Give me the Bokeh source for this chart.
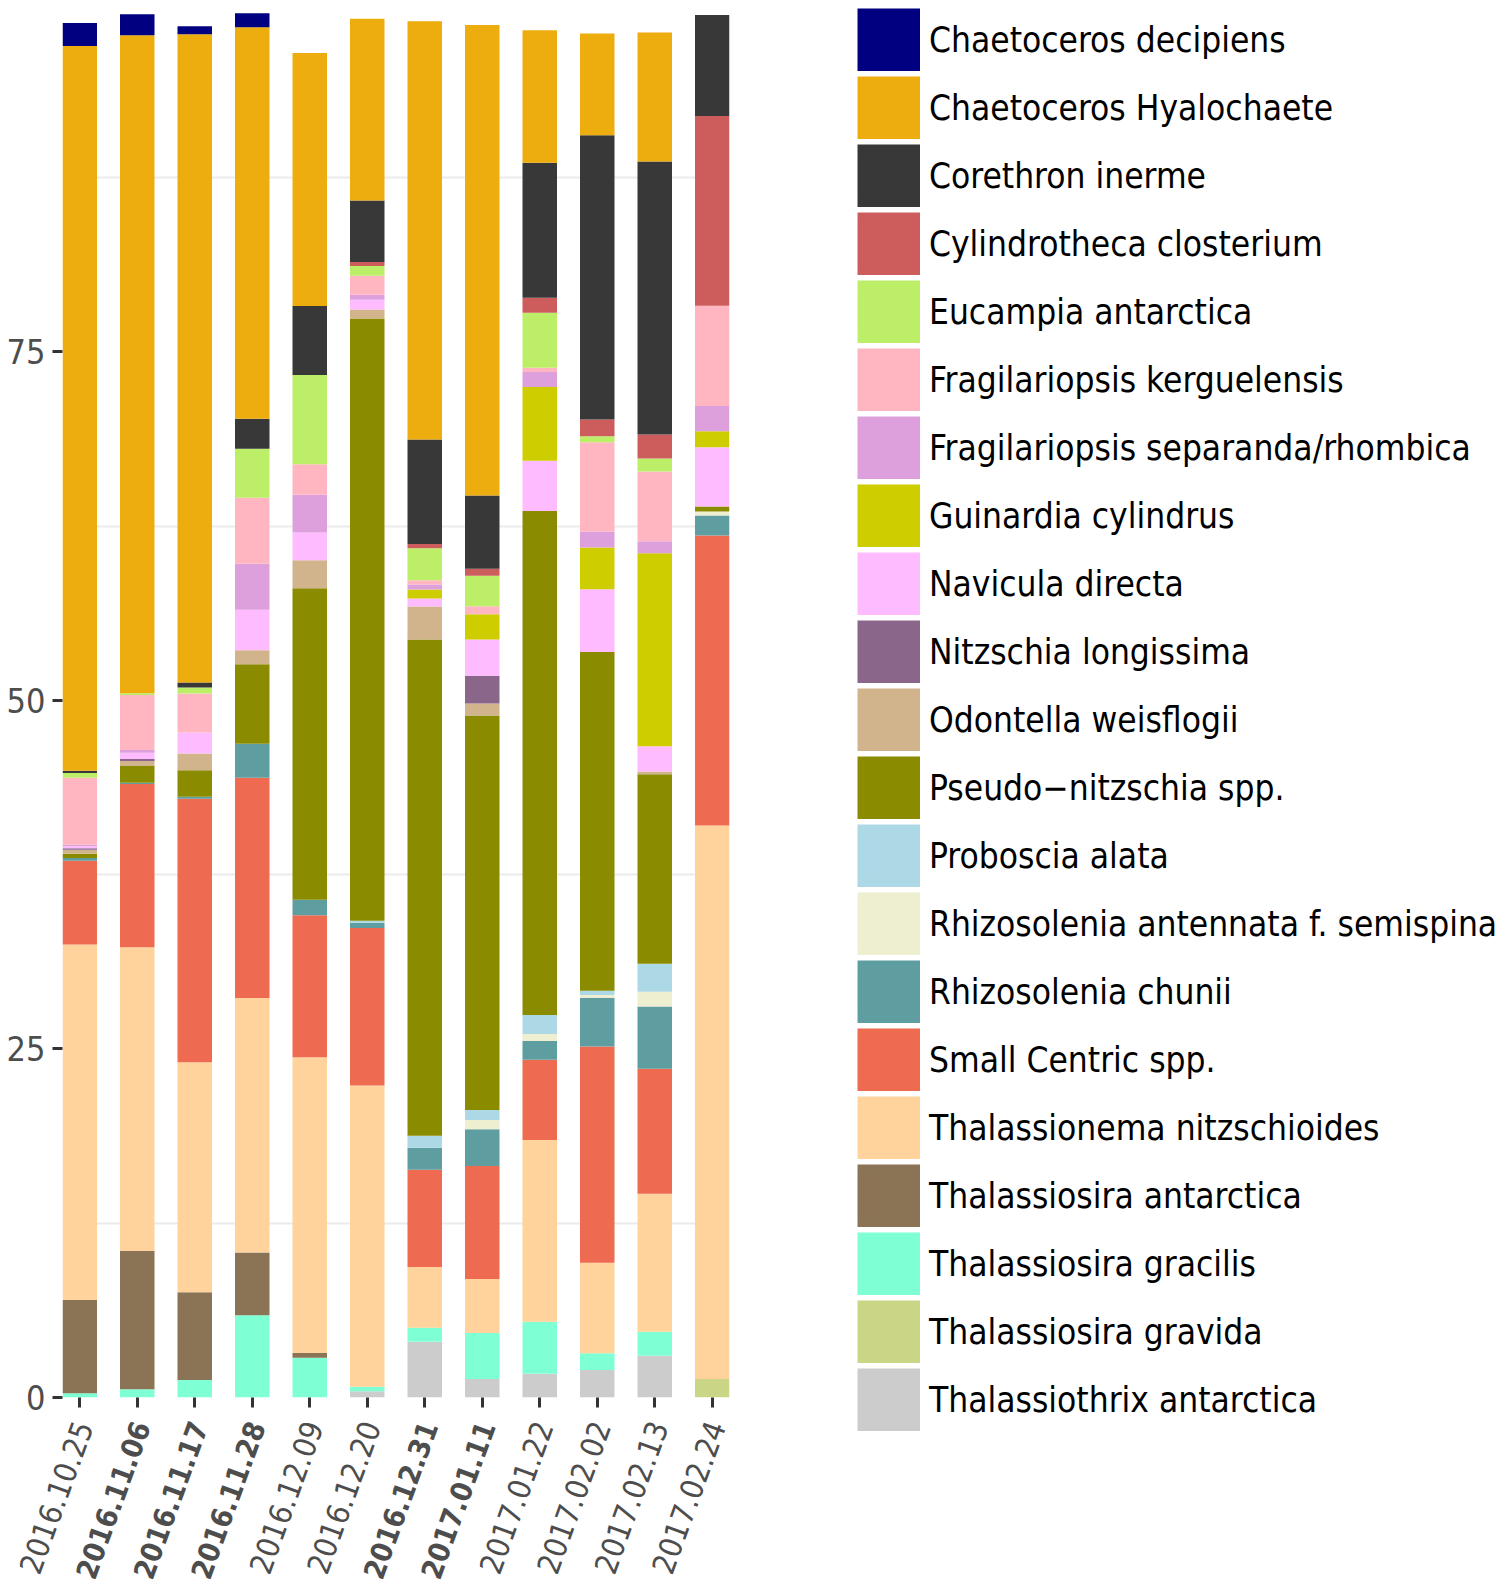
from bokeh.plotting import figure
from bokeh.layouts import row, column
from bokeh.models import ColumnDataSource, Range1d, FixedTicker, Legend, LegendItem
from bokeh.core.properties import value
from bokeh.embed import file_html
from bokeh.resources import INLINE

FONT = "DejaVu Sans Condensed"

dates = ["2016.10.25", "2016.11.06", "2016.11.17", "2016.11.28", "2016.12.09", "2016.12.20",
         "2016.12.31", "2017.01.11", "2017.01.22", "2017.02.02", "2017.02.13", "2017.02.24"]
bold_dates = ["2016.11.06", "2016.11.17", "2016.11.28", "2016.12.31", "2017.01.11"]

# legend order (top of legend = top of stack)
species = ["Chaetoceros decipiens", "Chaetoceros Hyalochaete", "Corethron inerme",
           "Cylindrotheca closterium", "Eucampia antarctica", "Fragilariopsis kerguelensis",
           "Fragilariopsis separanda/rhombica", "Guinardia cylindrus", "Navicula directa",
           "Nitzschia longissima", "Odontella weisflogii", "Pseudo\u2212nitzschia spp.",
           "Proboscia alata", "Rhizosolenia antennata f. semispina", "Rhizosolenia chunii",
           "Small Centric spp.", "Thalassionema nitzschioides", "Thalassiosira antarctica",
           "Thalassiosira gracilis", "Thalassiosira gravida", "Thalassiothrix antarctica"]
colors = ["#000080", "#EEAD0E", "#383838", "#CD5C5C", "#BCEE68", "#FFB6C1",
          "#DDA0DD", "#CDCD00", "#FFBBFF", "#8B668B", "#D2B48C", "#8B8B00",
          "#ADD8E6", "#EEEED1", "#5F9EA0", "#EE6A50", "#FFD39B", "#8B7355",
          "#7FFFD4", "#CAD586", "#CCCCCC"]

# relative abundance (%) per date
chaetoceros_decipiens   = [1.65, 1.5, 0.58, 1.0, 0, 0, 0, 0, 0, 0, 0, 0]
chaetoceros_hyalochaete = [52.0, 47.2, 46.5, 28.1, 18.15, 13.05, 30.0, 33.75, 9.5, 7.3, 9.25, 0]
corethron_inerme        = [0.15, 0, 0.36, 2.15, 4.95, 4.4, 7.5, 5.25, 9.7, 20.4, 19.6, 7.25]
cylindrotheca           = [0, 0, 0, 0, 0, 0.3, 0.3, 0.5, 1.07, 1.2, 1.72, 13.6]
eucampia                = [0.35, 0.12, 0.43, 3.5, 6.4, 0.7, 2.3, 2.2, 3.95, 0.43, 0.93, 0]
frag_kerguelensis       = [4.8, 3.95, 2.8, 4.75, 2.2, 1.35, 0.3, 0.57, 0.3, 6.4, 5.0, 7.2]
frag_separanda          = [0.1, 0.2, 0, 3.3, 2.7, 0.36, 0.36, 0, 1.07, 1.15, 0.86, 1.8]
guinardia               = [0, 0, 0, 0, 0, 0, 0.65, 1.8, 5.3, 3.0, 13.85, 1.15]
navicula                = [0.15, 0.45, 1.5, 2.9, 2.0, 0.7, 0.57, 2.6, 3.6, 4.5, 1.8, 4.25]
nitzschia_longissima    = [0.1, 0.15, 0, 0, 0, 0, 0, 2.0, 0, 0, 0, 0]
odontella               = [0.3, 0.35, 1.2, 1.0, 2.0, 0.65, 2.37, 0.86, 0, 0, 0.2, 0]
pseudo_nitzschia        = [0.3, 1.2, 1.9, 5.7, 22.35, 43.2, 35.6, 28.3, 36.15, 24.3, 13.6, 0.36]
proboscia               = [0, 0, 0, 0, 0, 0.15, 0.86, 0.72, 1.36, 0.3, 2.0, 0]
rhizo_antennata         = [0, 0, 0, 0, 0, 0, 0, 0.65, 0.5, 0.2, 1.07, 0.3]
rhizo_chunii            = [0.2, 0.1, 0.15, 2.45, 1.1, 0.37, 1.58, 2.65, 1.36, 3.5, 4.45, 1.43]
small_centric           = [6.0, 11.7, 18.9, 15.8, 10.2, 11.3, 6.96, 8.1, 5.74, 15.5, 8.97, 20.8]
thalassionema           = [25.5, 21.8, 16.5, 18.25, 21.2, 21.6, 4.37, 3.87, 13.05, 6.5, 9.9, 39.7]
thal_antarctica         = [6.7, 9.9, 6.3, 4.5, 0.35, 0, 0, 0, 0, 0, 0, 0]
thal_gracilis           = [0.3, 0.6, 1.25, 5.9, 2.85, 0.33, 1.0, 3.3, 3.73, 1.2, 1.72, 0]
thal_gravida            = [0, 0, 0, 0, 0, 0, 0, 0, 0, 0, 0, 1.33]
thalassiothrix          = [0, 0, 0, 0, 0, 0.45, 4.0, 1.33, 1.7, 1.97, 3.0, 0]

series = [chaetoceros_decipiens, chaetoceros_hyalochaete, corethron_inerme, cylindrotheca,
          eucampia, frag_kerguelensis, frag_separanda, guinardia, navicula,
          nitzschia_longissima, odontella, pseudo_nitzschia, proboscia, rhizo_antennata,
          rhizo_chunii, small_centric, thalassionema, thal_antarctica, thal_gracilis,
          thal_gravida, thalassiothrix]

# ---- layout constants (pixels) ----
LEFT, FRAME_W, RIGHT = 62, 667, 11
TOP, FRAME_H, BOTTOM = 12, 1385, 21
MAIN_W = LEFT + FRAME_W + RIGHT
MAIN_H = TOP + FRAME_H + BOTTOM
TOTAL_W, TOTAL_H = 1506, 1592
LAB_H = TOTAL_H - MAIN_H
LEG_W = TOTAL_W - MAIN_W
LABEL_ANCHOR_Y = 1422  # page y of label end points

# legend geometry (page pixels)
KEY = 63
GAP = 5
KEY_LEFT_PAGE = 857
TEXT_LEFT_PAGE = 929
KEY_TOP_PAGE = 8


def no_align(fig):
    if "frame_align" in fig.properties():
        fig.frame_align = False


n = len(dates)
xpos = list(range(1, n + 1))
X0, X1 = 0.7, n + 0.3
Y0, Y1 = 0, 99.35

data = {"x": xpos}
keys = []
for i, vals in enumerate(series):
    k = "s%d" % i
    data[k] = vals
    keys.append(k)
src = ColumnDataSource(data)
stack_keys = keys[::-1]
stack_cols = colors[::-1]

# ---- main bar chart ----
p = figure(width=MAIN_W, height=MAIN_H,
           x_range=Range1d(X0, X1), y_range=Range1d(Y0, Y1),
           output_backend="svg", toolbar_location=None,
           min_border_left=LEFT, min_border_right=RIGHT,
           min_border_top=TOP, min_border_bottom=BOTTOM)
p.outline_line_color = None
p.background_fill_color = "white"
p.border_fill_color = "white"

p.vbar_stack(stack_keys, x="x", width=0.6, fill_color=stack_cols, line_color=None, source=src)

p.yaxis.ticker = FixedTicker(ticks=[0, 25, 50, 75])
p.xaxis.ticker = FixedTicker(ticks=xpos)
p.xaxis.major_label_overrides = {x: "" for x in xpos}
for ax in (p.xaxis[0], p.yaxis[0]):
    ax.axis_line_color = None
    ax.major_tick_line_color = "#333333"
    ax.major_tick_line_width = 3
    ax.major_tick_out = 10
    ax.major_tick_in = 0
    ax.minor_tick_line_color = None
    ax.major_label_text_font = FONT
    ax.major_label_text_color = "#4d4d4d"
p.yaxis.major_label_text_font_size = "34px"
p.yaxis.major_label_standoff = 7
p.xaxis.major_label_text_font_size = "1px"
p.xaxis.major_label_standoff = 0

p.xgrid.visible = False
p.ygrid.ticker = FixedTicker(ticks=[12.5, 37.5, 62.5, 87.5])
p.ygrid.grid_line_color = "#ebebeb"
p.ygrid.grid_line_width = 2

# ---- rotated date labels (bold for selected dates) ----
px_per_unit = FRAME_W / (X1 - X0)
lx0 = X0 - LEFT / px_per_unit
lx1 = lx0 + MAIN_W / px_per_unit
pl = figure(width=MAIN_W, height=LAB_H, x_range=Range1d(lx0, lx1), y_range=Range1d(-LAB_H, 0),
            output_backend="svg", toolbar_location=None, x_axis_type=None, y_axis_type=None,
            min_border=0)
no_align(pl)
pl.outline_line_color = None
pl.xgrid.visible = False
pl.ygrid.visible = False
is_bold = [d in bold_dates for d in dates]
lab_src = ColumnDataSource(dict(x=xpos, text=dates,
                                style=["bold" if b else "normal" for b in is_bold],
                                size=["29px" if b else "31px" for b in is_bold]))
pl.text(x="x", y=-(LABEL_ANCHOR_Y - MAIN_H), text="text", source=lab_src, angle=70, angle_units="deg",
        x_offset=4, text_align="right", text_baseline="middle", text_font=value(FONT),
        text_font_size="size", text_color="#4d4d4d", text_font_style="style")

# ---- legend panel ----
pg = figure(width=LEG_W, height=TOTAL_H, x_range=Range1d(X0, X1), y_range=Range1d(Y0, Y1),
            output_backend="svg", toolbar_location=None, x_axis_type=None, y_axis_type=None,
            min_border=0)
no_align(pg)
pg.outline_line_color = None
pg.xgrid.visible = False
pg.ygrid.visible = False
# hidden copy of the stacked bars feeds the legend swatches;
# bokeh insets legend areas by 10% per side, so a border of 20% of the key restores full size
leg_rs = pg.vbar_stack(stack_keys, x="x", width=0.6, fill_color=stack_cols,
                       line_color=stack_cols, line_width=KEY * 0.2, line_join="miter", source=src)
for r in leg_rs:
    r.visible = False
rmap = dict(zip(stack_keys, leg_rs))
items = [LegendItem(label=species[i], renderers=[rmap[keys[i]]]) for i in range(len(species))]
n_items = len(items)
leg_h = n_items * KEY + (n_items - 1) * GAP
legend = Legend(items=items, location=(KEY_LEFT_PAGE - MAIN_W, TOTAL_H - KEY_TOP_PAGE - leg_h),
                glyph_width=KEY, glyph_height=KEY, label_height=KEY,
                spacing=GAP, padding=0, margin=0, click_policy="none",
                inactive_fill_alpha=0,
                border_line_color=None, background_fill_alpha=0,
                label_text_font=FONT, label_text_font_size="35px", label_text_color="black",
                label_standoff=TEXT_LEFT_PAGE - KEY_LEFT_PAGE - KEY)
pg.add_layout(legend)

layout = row(column(p, pl, spacing=0), pg, spacing=0)
open("out.html", "w").write(file_html(layout, INLINE))
